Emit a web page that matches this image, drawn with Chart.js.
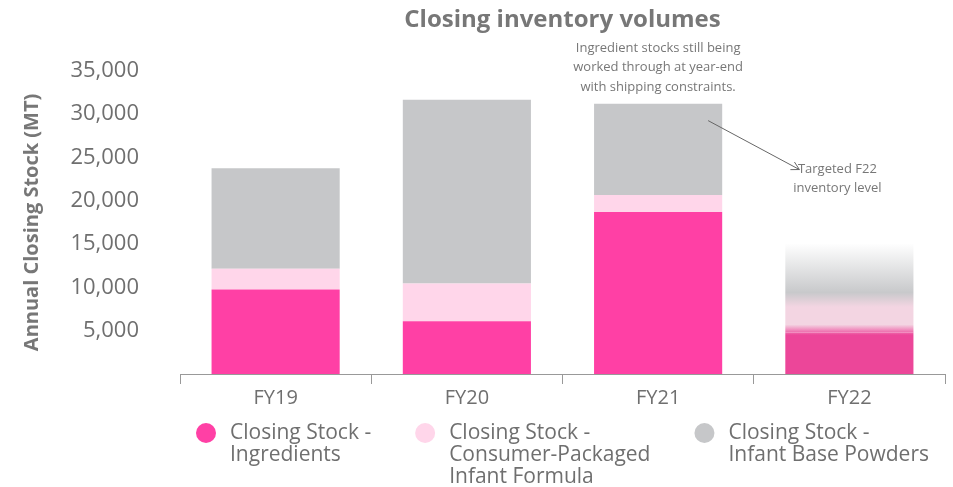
<!DOCTYPE html>
<html>
<head>
<meta charset="utf-8">
<script src="https://cdn.jsdelivr.net/npm/chart.js@4.4.0/dist/chart.umd.min.js"></script>
<style>
  html, body { margin: 0; padding: 0; background: #fff; }
  #wrap { width: 953px; height: 487px; }
</style>
</head>
<body>
<div id="wrap"><canvas id="canvas"></canvas></div>
<script>
// closing stock by type, metric tonnes
let years = ['FY19', 'FY20', 'FY21', 'FY22'];
let ingredients = [9750, 6100, 18700, 4800];
let packaged = [2400, 4350, 1950, 3400];
let basePowders = [11600, 21200, 10550, 6900];
let seriesLabels = ['Closing Stock -\nIngredients', 'Closing Stock -\nConsumer-Packaged\nInfant Formula', 'Closing Stock -\nInfant Base Powders'];
let colours = ['#FF40A5', '#FFD6EA', '#C6C7C9'];
let title = 'Closing inventory volumes';
let targetIndex = 3; // FY22 is a target, drawn faded

let font = '"Open Sans"';
let grey = '#6f6f6f';

// FY22 bar: one gradient shared by the three segments so they blur into each other
function targetGradient(chart) {
  let y = chart.scales.y;
  if (!y || !chart.chartArea) return null;
  let i = targetIndex;
  let y0 = y.getPixelForValue(0);
  let top = ingredients[i] + packaged[i] + basePowders[i];
  let y1 = y.getPixelForValue(top);
  let g = chart.ctx.createLinearGradient(0, y0, 0, y1);
  let f1 = ingredients[i] / top;
  let f2 = (ingredients[i] + packaged[i]) / top;
  g.addColorStop(0, '#EC4699');
  g.addColorStop(f1 - 0.02, '#EC4699');
  g.addColorStop(f1 + 0.06, '#F3D5E2');
  g.addColorStop(f2 - 0.03, '#F3D5E2');
  g.addColorStop(f2 + 0.08, '#C8C9CB');
  g.addColorStop(1, 'rgba(255,255,255,1)');
  return g;
}

function makeSet(label, data, colour) {
  return {
    label: label,
    data: data,
    backgroundColor: function(ctx) {
      if (ctx.dataIndex === targetIndex) {
        return targetGradient(ctx.chart) || colour;
      }
      return colour;
    },
    borderWidth: 0,
    categoryPercentage: 0.67,
    barPercentage: 1.0
  };
}

// notes and arrow drawn on top
let notes = {
  id: 'notes',
  afterDraw(chart) {
    let ctx = chart.ctx;
    let x = chart.scales.x, y = chart.scales.y;
    ctx.save();
    ctx.fillStyle = '#777';
    ctx.font = '13px ' + font;
    ctx.textAlign = 'center';
    ctx.textBaseline = 'middle';
    let cx = x.getPixelForValue(2);
    ['Ingredient stocks still being', 'worked through at year-end', 'with shipping constraints.'].forEach((t, k) => {
      ctx.fillText(t, cx, 48 + k * 19.5);
    });
    let tx = x.getPixelForValue(3) - 12;
    ['Targeted F22', 'inventory level'].forEach((t, k) => {
      ctx.fillText(t, tx, 169 + k * 19.5);
    });
    // arrow
    let ax = cx + 50, ay = y.getPixelForValue(29250);
    let bx = x.getPixelForValue(3) - 50, by = y.getPixelForValue(23600);
    ctx.strokeStyle = '#666';
    ctx.lineWidth = 1;
    ctx.beginPath();
    ctx.moveTo(ax, ay);
    ctx.lineTo(bx, by);
    let ang = Math.atan2(by - ay, bx - ax);
    ctx.moveTo(bx - 9 * Math.cos(ang - 0.5), by - 9 * Math.sin(ang - 0.5));
    ctx.lineTo(bx, by);
    ctx.lineTo(bx - 9 * Math.cos(ang + 0.5), by - 9 * Math.sin(ang + 0.5));
    ctx.stroke();
    ctx.restore();
  }
};

// legend with wrapped labels, centred under the plot
let legendBelow = {
  id: 'legendBelow',
  afterDraw(chart) {
    let ctx = chart.ctx;
    let area = chart.chartArea;
    ctx.save();
    ctx.font = '21px ' + font;
    ctx.textBaseline = 'middle';
    ctx.textAlign = 'left';
    let items = chart.data.datasets.map((ds, k) => {
      let lines = ds.label.split('\n');
      let w = Math.max(...lines.map(l => ctx.measureText(l).width));
      return { lines: lines, w: 24 + w, colour: colours[k] };
    });
    let gap = 44;
    let total = items.reduce((s, it) => s + it.w + 10, 0) + gap * (items.length - 1);
    let px = (area.left + area.right) / 2 - total / 2 + 10;
    let py = 433;
    items.forEach(it => {
      ctx.fillStyle = it.colour;
      ctx.beginPath();
      ctx.arc(px, py, 10, 0, Math.PI * 2);
      ctx.fill();
      ctx.fillStyle = grey;
      it.lines.forEach((l, k) => ctx.fillText(l, px + 24, py + k * 22));
      px += it.w + 10 + gap;
    });
    ctx.restore();
  }
};

let options = {
  type: 'bar',
  data: {
    labels: years,
    datasets: [
      makeSet(seriesLabels[0], ingredients, colours[0]),
      makeSet(seriesLabels[1], packaged, colours[1]),
      makeSet(seriesLabels[2], basePowders, colours[2])
    ]
  },
  options: {
    responsive: true,
    maintainAspectRatio: false,
    animation: false,
    layout: { padding: { left: 0, right: 8, top: 0, bottom: 75 } },
    plugins: {
      legend: { display: false },
      tooltip: { enabled: false },
      title: {
        display: true,
        fullSize: false,
        text: title,
        color: '#777',
        font: { family: font, size: 24, weight: 'bold' },
        padding: { top: 6, bottom: 36 }
      }
    },
    scales: {
      x: {
        stacked: true,
        border: { color: '#999', width: 1 },
        grid: { drawOnChartArea: false, drawTicks: true, tickLength: 10, color: '#999', offset: true },
        ticks: { color: grey, font: { family: font, size: 20 }, padding: 2 }
      },
      y: {
        stacked: true,
        min: 0,
        max: 35000,
        border: { display: false },
        grid: { display: false },
        afterFit(scale) { scale.width = 180; },
        ticks: {
          stepSize: 5000,
          color: grey,
          padding: 33,
          font: { family: font, size: 22 },
          callback: v => v === 0 ? '' : v.toLocaleString('en-US')
        },
        title: {
          display: true,
          text: 'Annual Closing Stock (MT)',
          color: '#777',
          font: { family: font, size: 20, weight: 'bold' },
          padding: { top: 20, bottom: 0 }
        }
      }
    }
  },
  plugins: [notes, legendBelow]
};

let chart = new Chart(document.getElementById('canvas'), options);
</script>
</body>
</html>
